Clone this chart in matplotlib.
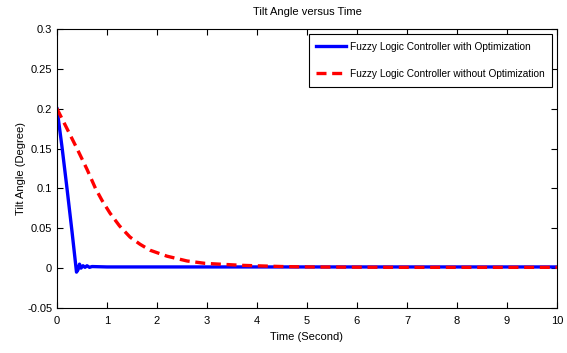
import numpy as np
import matplotlib
matplotlib.use("Agg")
import matplotlib.pyplot as plt

plt.rcParams['font.family'] = ['Liberation Sans Narrow', 'Liberation Sans', 'DejaVu Sans']

# optimized controller (blue)
t_opt = [0, 0.1, 0.2, 0.3, 0.36, 0.39, 0.42, 0.45, 0.48, 0.52, 0.56, 0.6, 0.65, 0.7,
         1.0, 2.0, 2.5, 3.0, 4.0, 5.0, 6.0, 7.0, 8.0, 9.0, 10.0]
y_opt = [0.2, 0.152, 0.1, 0.046, 0.012, -0.005, -0.002, 0.005, 0.0, 0.003, 0.001, 0.003, 0.001, 0.002,
         0.0015, 0.0015, 0.0015, 0.0015, 0.0015, 0.0015, 0.0015, 0.0015, 0.0015, 0.0015, 0.0015]

# non-optimized controller (red dashed)
t_no = [0, 0.2, 0.4, 0.6, 0.77, 0.9, 1.06, 1.25, 1.46, 1.66, 1.86, 2.2, 2.6, 2.96, 3.4, 3.7,
        4.5, 5.0, 6.0, 7.0, 8.0, 9.0, 10.0]
y_no = [0.2, 0.175, 0.15, 0.124, 0.1, 0.085, 0.069, 0.053, 0.039, 0.03, 0.0225, 0.015, 0.009,
        0.006, 0.0045, 0.0035, 0.002, 0.0015, 0.0012, 0.001, 0.001, 0.001, 0.001]

fig = plt.figure(figsize=(5.67, 3.53), dpi=100)
ax = fig.add_axes([57/567, 1 - 308/353, 500/567, 279/353])
ax.plot(t_opt, y_opt, color="#0000ff", lw=2.4, label="Fuzzy Logic Controller with Optimization")
ax.plot(t_no, y_no, color="#ff0000", lw=2.4, ls=(0, (3, 1.7)),
        label="Fuzzy Logic Controller without Optimization")
ax.set_xlim(0, 10)
ax.set_ylim(-0.05, 0.3)
ax.set_xticks(range(0, 11))
ax.set_yticks([-0.05, 0, 0.05, 0.1, 0.15, 0.2, 0.25, 0.3])
ax.set_yticklabels(["-0.05", "0", "0.05", "0.1", "0.15", "0.2", "0.25", "0.3"])
ax.tick_params(direction="in", top=True, right=True, labelsize=8, length=4)
ax.tick_params(axis="x", pad=6)
ax.set_xlabel("Time (Second)", fontsize=8, labelpad=4)
ax.set_ylabel("Tilt Angle (Degree)", fontsize=8, labelpad=1)
ax.set_title("Tilt Angle versus Time", fontsize=8, pad=10)
leg = ax.legend(loc="upper right", fontsize=7.3, fancybox=False, edgecolor="black",
                handlelength=2.9, handletextpad=0.4, labelspacing=1.7,
                borderpad=0.75, borderaxespad=0.5, framealpha=1)
leg.get_frame().set_linewidth(0.8)
fig.savefig("out.png", dpi=100)
